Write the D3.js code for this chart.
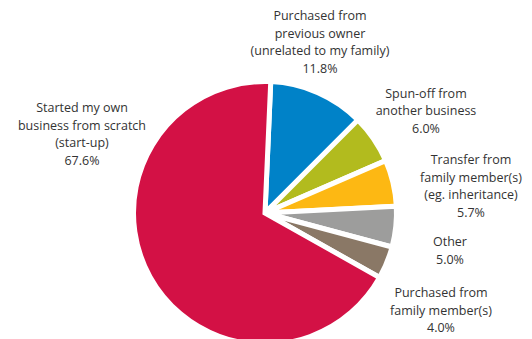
<!DOCTYPE html>
<html>
<head>
<meta charset="utf-8">
<script src="https://cdn.jsdelivr.net/npm/d3@7"></script>
<style>
  html, body { margin: 0; padding: 0; background: #ffffff; }
  svg { display: block; }
</style>
</head>
<body>
<svg id="chart" width="532" height="339"></svg>
<script>
// How the business was acquired (share of respondents, %)
const categories = [
  "Purchased from previous owner (unrelated to my family)",
  "Spun-off from another business",
  "Transfer from family member(s) (eg. inheritance)",
  "Other",
  "Purchased from family member(s)",
  "Started my own business from scratch (start-up)"
];
const values = [11.8, 6.0, 5.7, 5.0, 4.0, 67.6];
const labelLines = [
  ["Purchased from", "previous owner", "(unrelated to my family)"],
  ["Spun-off from", "another business"],
  ["Transfer from", "family member(s)", "(eg. inheritance)"],
  ["Other"],
  ["Purchased from", "family member(s)"],
  ["Started my own", "business from scratch", "(start-up)"]
];
const colors = ["#0082c8", "#b2bb1e", "#fdb813", "#9d9d9c", "#8a7866", "#d31145"];

// Label anchors: centre x and first baseline y
const labelAnchors = [
  [320, 20], [426, 97.5], [471, 164], [450, 246], [441, 297], [82, 112]
];

const W = 532, H = 339;
const cx = 265, cy = 213, radius = 131.5;
const lineHeight = 17.5;
const rot = 2.5 * Math.PI / 180;

const svg = d3.select("#chart");

const data = categories.map((c, i) => ({ category: c, value: values[i], i }));

const pie = d3.pie()
  .value(d => d.value)
  .sort(null)
  .startAngle(rot)
  .endAngle(rot + 2 * Math.PI);

const arc = d3.arc().innerRadius(0).outerRadius(radius);

svg.append("g")
  .attr("transform", `translate(${cx},${cy})`)
  .selectAll("path")
  .data(pie(data))
  .join("path")
  .attr("d", arc)
  .attr("fill", d => colors[d.data.i])
  .attr("stroke", "#ffffff")
  .attr("stroke-width", 5)
  .attr("stroke-linejoin", "miter");

const labels = svg.append("g")
  .attr("font-family", "'Open Sans', 'Noto Sans', sans-serif")
  .attr("font-size", 12.5)
  .attr("fill", "#333333")
  .attr("text-anchor", "middle");

data.forEach(d => {
  const [lx, ly] = labelAnchors[d.i];
  const lines = labelLines[d.i].concat([d.value.toFixed(1) + "%"]);
  const t = labels.append("text").attr("x", lx).attr("y", ly);
  lines.forEach((s, k) => {
    t.append("tspan")
      .attr("x", lx)
      .attr("y", ly + k * lineHeight)
      .text(s);
  });
});
</script>
</body>
</html>
